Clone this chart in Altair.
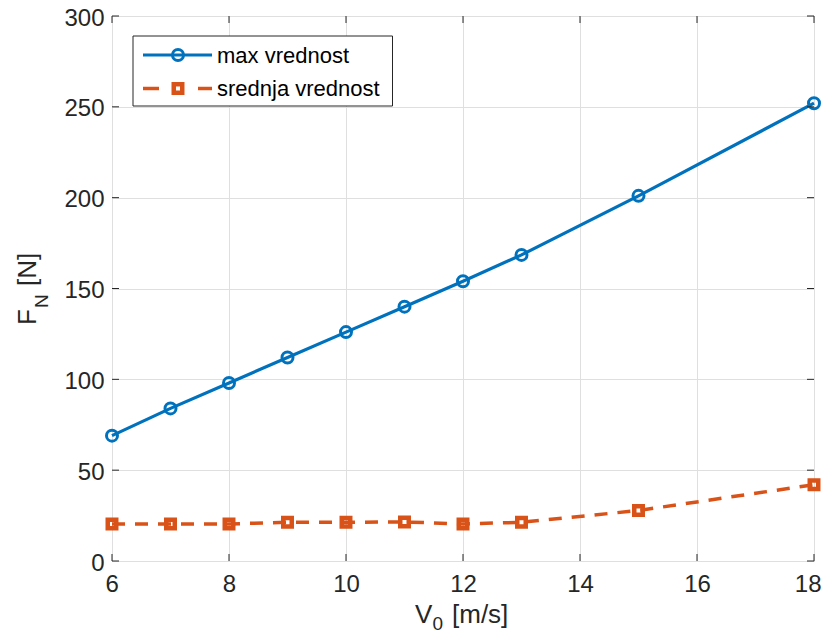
import altair as alt
import pandas as pd

# ---- data ----
v0 = [6, 7, 8, 9, 10, 11, 12, 13, 15, 18]
max_vals = [69, 84, 98, 112, 126, 140, 154, 168.5, 201, 252]
mean_vals = [20.4, 20.4, 20.4, 21.3, 21.3, 21.5, 20.4, 21.3, 27.8, 42]
series_names = ["max vrednost", "srednja vrednost"]
x_ticks = [6, 8, 10, 12, 14, 16, 18]
y_ticks = [0, 50, 100, 150, 200, 250, 300]

BLUE = "#0072BD"
ORANGE = "#D95319"
AX = "#262626"
FONT = "Liberation Sans"
W, H = 702, 545

df_max = pd.DataFrame({"v": v0, "f": max_vals})
df_mean = pd.DataFrame({"v": v0, "f": mean_vals})

xs = alt.Scale(domain=[6, 18], nice=False, zero=False)
ys = alt.Scale(domain=[0, 300], nice=False)

ax_common = dict(title=None, domain=False, ticks=False, grid=True, gridColor="#dfdfdf",
                 gridWidth=1, labelFont=FONT, labelFontSize=24, labelColor=AX, format="d",
                 labelOverlap=False)
X = alt.X("v:Q", scale=xs, axis=alt.Axis(values=x_ticks, labelPadding=11, labelFlush=True,
                                         labelFlushOffset=7, **ax_common))
Y = alt.Y("f:Q", scale=ys, axis=alt.Axis(values=y_ticks, labelPadding=8, labelOffset=2,
                                         labelFlush=False, **ax_common))

line_max = alt.Chart(df_max).mark_line(color=BLUE, strokeWidth=3.2).encode(x=X, y=Y)
pts_max = alt.Chart(df_max).mark_point(shape="circle", filled=False, color=BLUE,
                                       size=121, strokeWidth=3, opacity=1).encode(x=X, y=Y)
line_mean = alt.Chart(df_mean).mark_line(color=ORANGE, strokeWidth=3.5,
                                         strokeDash=[13, 10]).encode(x=X, y=Y)
pts_mean = alt.Chart(df_mean).mark_point(shape="square", filled=False, color=ORANGE,
                                         size=72, strokeWidth=4.5, opacity=1).encode(x=X, y=Y)

# inward ticks on all four sides
tx = pd.DataFrame({"v": x_ticks})
ty = pd.DataFrame({"f": y_ticks})
tick_b = alt.Chart(tx).mark_rule(color=AX, strokeWidth=1).encode(
    x=X, y=alt.value(H), y2=alt.value(H - 7))
tick_t = alt.Chart(tx).mark_rule(color=AX, strokeWidth=1).encode(
    x=X, y=alt.value(0), y2=alt.value(7))
tick_l = alt.Chart(ty).mark_rule(color=AX, strokeWidth=1).encode(
    y=Y, x=alt.value(0), x2=alt.value(7))
tick_r = alt.Chart(ty).mark_rule(color=AX, strokeWidth=1).encode(
    y=Y, x=alt.value(W), x2=alt.value(W - 7))

one = alt.Data(values=[{"a": 1}])


def txt(s, x, y, size, angle=0, color=AX):
    kw = dict(text=s, align="left", baseline="alphabetic", font=FONT,
              fontSize=size, color=color)
    if angle:
        kw["angle"] = angle
    return alt.Chart(one).mark_text(**kw).encode(x=alt.value(x), y=alt.value(y))


# axis titles with subscripts
x_title = [
    txt("V", 303, 607, 26),
    txt("0", 320.5, 614, 19),
    txt("[m/s]", 340, 607, 26),
]
y_title = [
    txt("F", -76.5, 309, 26, angle=270),
    txt("N", -64, 292, 19, angle=270),
    txt("[N]", -76.5, 270, 26, angle=270),
]

# legend box
leg_box = alt.Chart(one).mark_rect(fill="white", stroke=AX, strokeWidth=1).encode(
    x=alt.value(21), x2=alt.value(280.5), y=alt.value(20), y2=alt.value(90))
leg1_line = alt.Chart(one).mark_rule(color=BLUE, strokeWidth=3.2).encode(
    x=alt.value(31), x2=alt.value(100), y=alt.value(39))
leg1_pt = alt.Chart(one).mark_point(shape="circle", filled=False, color=BLUE, size=121,
                                    strokeWidth=3, opacity=1).encode(
    x=alt.value(66), y=alt.value(39))
leg1_txt = alt.Chart(one).mark_text(text=series_names[0], align="left", baseline="middle",
                                    font=FONT, fontSize=22, color="black").encode(
    x=alt.value(105), y=alt.value(40))
leg2_d1 = alt.Chart(one).mark_rule(color=ORANGE, strokeWidth=3.5).encode(
    x=alt.value(31), x2=alt.value(47), y=alt.value(72.5))
leg2_d2 = alt.Chart(one).mark_rule(color=ORANGE, strokeWidth=3.5).encode(
    x=alt.value(86), x2=alt.value(100), y=alt.value(72.5))
leg2_pt = alt.Chart(one).mark_point(shape="square", filled=False, color=ORANGE, size=72,
                                    strokeWidth=4.5, opacity=1).encode(
    x=alt.value(66), y=alt.value(72.5))
leg2_txt = alt.Chart(one).mark_text(text=series_names[1], align="left", baseline="middle",
                                    font=FONT, fontSize=22, color="black").encode(
    x=alt.value(105), y=alt.value(73))

chart = alt.layer(
    line_max, line_mean, pts_max, pts_mean,
    tick_b, tick_t, tick_l, tick_r,
    *x_title, *y_title,
    leg_box, leg1_line, leg1_pt, leg1_txt, leg2_d1, leg2_d2, leg2_pt, leg2_txt,
).properties(
    width=W, height=H,
    autosize=alt.AutoSizeParams(type="none"),
    padding={"left": 104, "top": 8, "right": 8, "bottom": 72},
).configure_view(
    stroke=AX, strokeWidth=1
).configure(background="white")

chart.save("out.html", embed_options={"renderer": "svg", "actions": False})
